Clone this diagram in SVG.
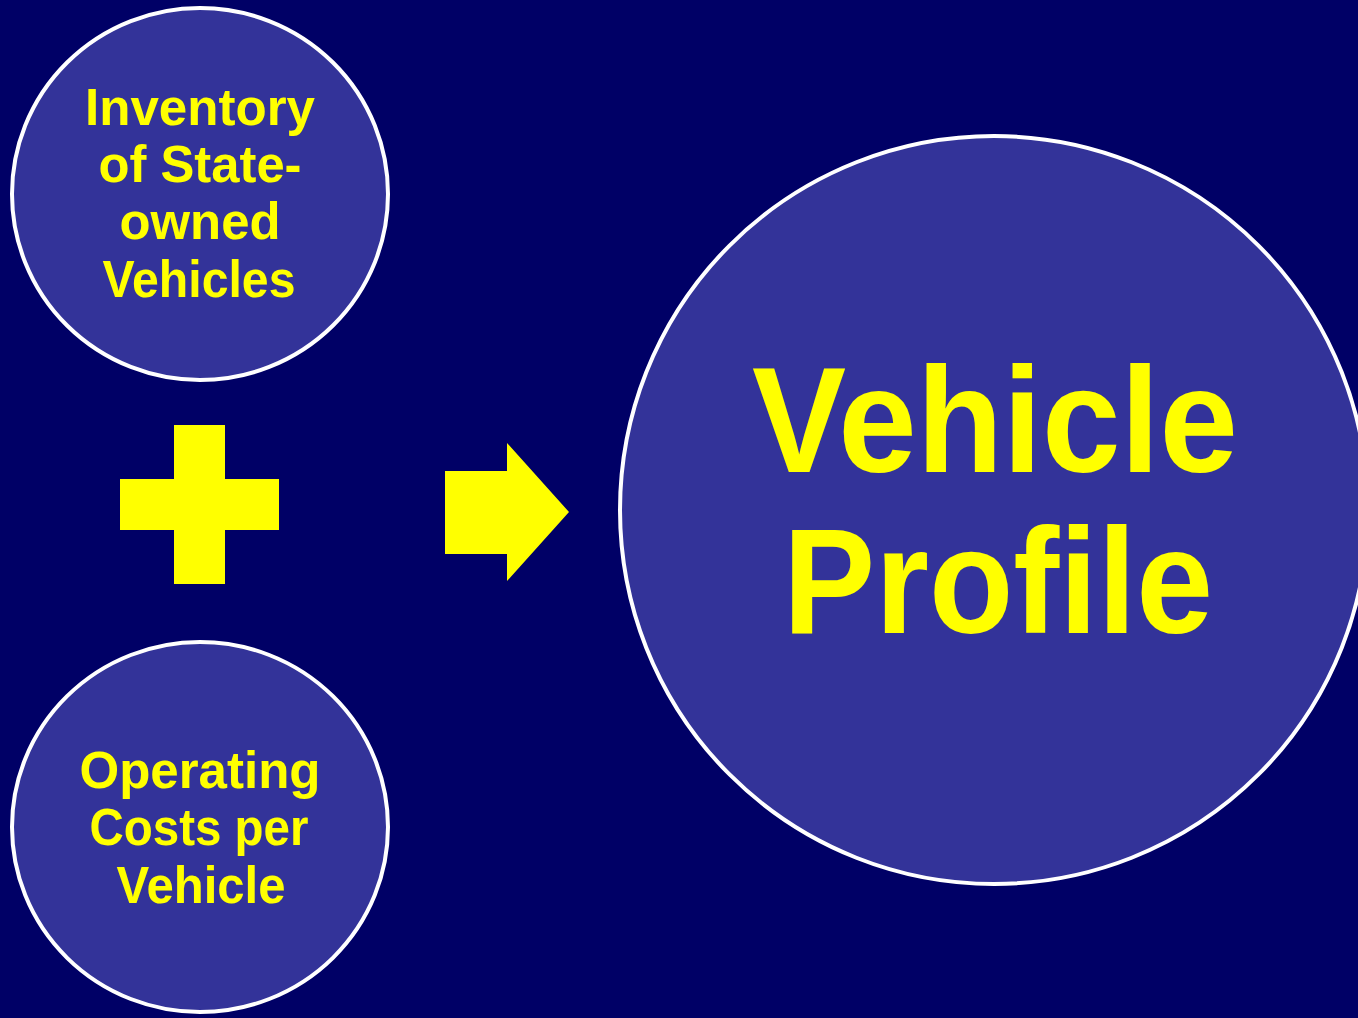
<svg xmlns="http://www.w3.org/2000/svg" width="1358" height="1018" viewBox="0 0 1358 1018">
  <style>
    .node { fill: #333399; stroke: #FFFFFF; stroke-width: 4; }
    .lbl { fill: #FFFF00; font-family: "Liberation Sans", Arial, sans-serif; font-weight: bold; text-anchor: middle; }
    .sm { font-size: 52px; }
    .lg { font-size: 150px; }
    .sym { fill: #FFFF00; }
  </style>
  <rect x="0" y="0" width="1358" height="1018" fill="#000066"/>

  <g id="node-inventory">
    <ellipse class="node" cx="200" cy="194" rx="188" ry="186"/>
    <text class="lbl sm" x="200" y="125" textLength="230" lengthAdjust="spacingAndGlyphs">Inventory</text>
    <text class="lbl sm" x="200" y="182" textLength="203" lengthAdjust="spacingAndGlyphs">of State-</text>
    <text class="lbl sm" x="200" y="239" textLength="161" lengthAdjust="spacingAndGlyphs">owned</text>
    <text class="lbl sm" x="199" y="297" textLength="193" lengthAdjust="spacingAndGlyphs">Vehicles</text>
  </g>

  <g id="node-operating-costs">
    <ellipse class="node" cx="200" cy="827" rx="188" ry="185"/>
    <text class="lbl sm" x="200" y="788" textLength="241" lengthAdjust="spacingAndGlyphs">Operating</text>
    <text class="lbl sm" x="199" y="845" textLength="219" lengthAdjust="spacingAndGlyphs">Costs per</text>
    <text class="lbl sm" x="201" y="903" textLength="169" lengthAdjust="spacingAndGlyphs">Vehicle</text>
  </g>

  <g id="node-vehicle-profile">
    <circle class="node" cx="994" cy="510" r="374"/>
    <text class="lbl lg" x="995" y="472" textLength="486" lengthAdjust="spacingAndGlyphs">Vehicle</text>
    <text class="lbl lg" x="998" y="633" textLength="430" lengthAdjust="spacingAndGlyphs">Profile</text>
  </g>

  <g id="connectors">
    <path id="plus" class="sym" d="M174,425 H225 V479 H279 V530 H225 V584 H174 V530 H120 V479 H174 Z"/>
    <path id="arrow" class="sym" d="M445,471 H507 V443 L569,512 L507,581 V554 H445 Z"/>
  </g>
</svg>
